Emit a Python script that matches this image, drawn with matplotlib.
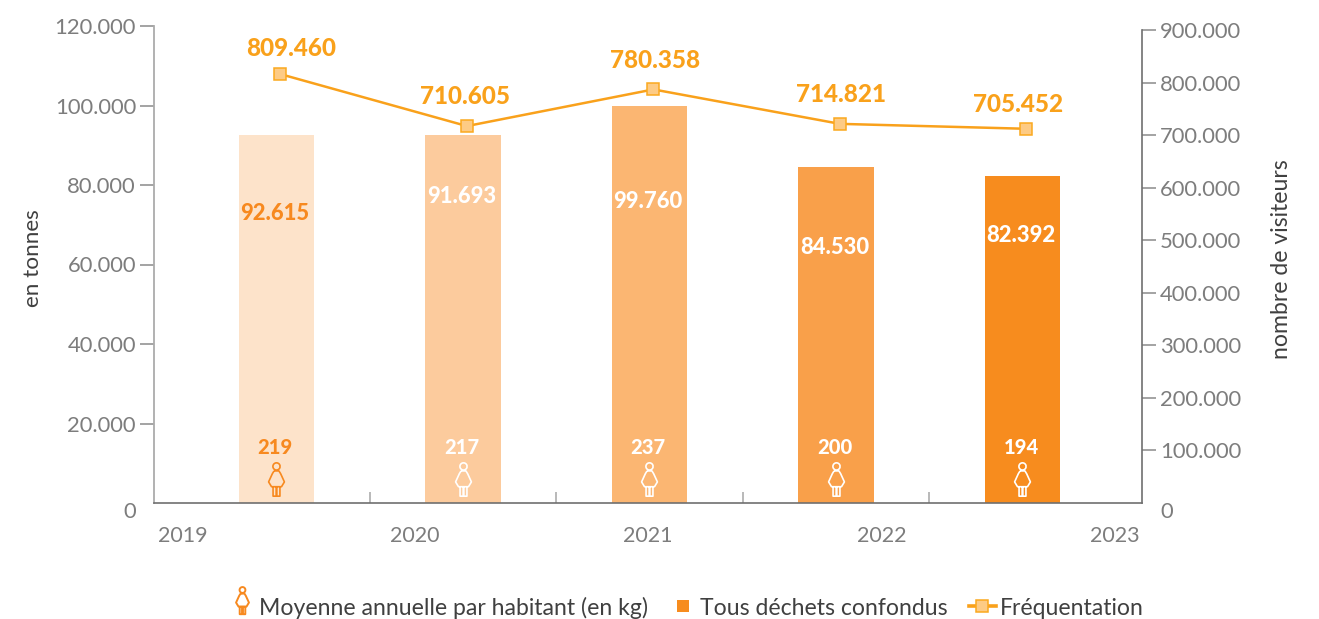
import numpy as np
import matplotlib
matplotlib.use("Agg")
import matplotlib.pyplot as plt
from matplotlib.path import Path
from matplotlib.lines import Line2D
from matplotlib.transforms import ScaledTranslation

years = ["2019", "2020", "2021", "2022", "2023"]
dechets = [92615, 91693, 99760, 84530, 82392]
bar_heights = [92615, 92615, 99760, 84530, 82300]  # as drawn in the picture
frequentation = [809460, 710605, 780358, 714821, 705452]
par_habitant = [219, 217, 237, 200, 194]
left_ticks = [0, 20000, 40000, 60000, 80000, 100000, 120000]
right_ticks = [0, 100000, 200000, 300000, 400000, 500000, 600000, 700000, 800000, 900000]
bar_colors = ["#FDE3CA", "#FCCB9D", "#FBB672", "#F9A04A", "#F78C1E"]
W, H = 1319, 619
GREY = "#7d7d7d"
DARK = "#404040"
ORANGE = "#F9A11B"
ICON = "#F7891F"
plt.rcParams["font.family"] = ["Lato", "DejaVu Sans"]


def fpt(x, y, s, **kw):
    return fig.text(x / W, 1 - y / H, s, ha="center", va="center", **kw)


def fmt(v):
    return f"{v:,}".replace(",", ".")


def person(dy=0.0):
    t = np.linspace(0, 2 * np.pi, 25)
    verts, codes = [], []

    def add(pts):
        verts.extend(pts)
        codes.extend([Path.MOVETO] + [Path.LINETO] * (len(pts) - 1))

    add(list(zip(0.21 * np.cos(t), 0.76 + 0.21 * np.sin(t))))
    add([(-0.14, 0.50), (0.14, 0.50), (0.24, 0.34), (0.46, -0.14), (0.29, -0.42),
         (-0.29, -0.42), (-0.46, -0.14), (-0.24, 0.34), (-0.14, 0.50)])
    add([(-0.20, -0.42), (-0.20, -0.97), (-0.02, -0.97), (-0.02, -0.42)])
    add([(0.02, -0.42), (0.02, -0.97), (0.20, -0.97), (0.20, -0.42)])
    v = np.array(verts)
    v[:, 1] += dy
    return Path(v, codes)


PERSON = person()
PERSON_LEG = person(0.42)

fig = plt.figure(figsize=(W / 100, H / 100), dpi=100)
ax = fig.add_axes([154 / W, 1 - 503 / H, (1142 - 154) / W, (503 - 26) / H])
x = np.arange(len(years))
ax.bar(x, bar_heights, width=75.5 / 186.5, color=bar_colors, zorder=2)
ax.set_xlim((154 - 276.4) / 186.5, (1142 - 276.4) / 186.5)
ax.set_ylim(0, 120000)
ax.set_yticks(left_ticks[1:])
ax.set_yticklabels([fmt(v) for v in left_ticks[1:]], fontsize=15.8, color=GREY)
ax.tick_params(axis="y", length=10, width=1.1, color="#8a8a8a", pad=3)
ax.set_xticks(x[:-1] + 0.5)
ax.set_xticklabels([])
ax.tick_params(axis="x", direction="in", length=8, width=1.1, color="#a5a5a5")
for s in ["top", "right"]:
    ax.spines[s].set_visible(False)
ax.spines["left"].set_color("#ababab")
ax.spines["left"].set_linewidth(1.3)
ax.spines["bottom"].set_color("#6f6f6f")
ax.spines["bottom"].set_linewidth(1.2)

ax2 = ax.twinx()
ax2.set_ylim(0, 907700)
ax2.set_yticks(right_ticks[1:])
ax2.set_yticklabels([fmt(v) for v in right_ticks[1:]], fontsize=15.8, color=GREY)
ax2.tick_params(axis="y", length=10, width=1.1, color="#8a8a8a", pad=3)
for s in ["top", "left", "bottom"]:
    ax2.spines[s].set_visible(False)
ax2.spines["right"].set_bounds(0, 900000)
ax2.spines["right"].set_color("#6f6f6f")
ax2.spines["right"].set_linewidth(1.2)

# The line sits a little up and right of the printed scale in the original
lift = ax2.transData + ScaledTranslation(4 / 100, 3.5 / 100, fig.dpi_scale_trans)
ax2.plot(x, frequentation, color=ORANGE, lw=1.8, marker="s", ms=8.5, mfc="#FDCB85",
         mec="#FBA91F", mew=1.1, transform=lift, zorder=5)

fpt(130, 512, "0", fontsize=15.8, color=GREY)
fpt(1167, 512, "0", fontsize=15.8, color=GREY)

for xp, yr in zip([183, 415, 648, 882, 1115], years):
    fpt(xp, 536, yr, fontsize=15.5, color=GREY)

fpt(33, 258, "en tonnes", rotation=90, fontsize=16.2, color=DARK)
fpt(1282, 259, "nombre de visiteurs", rotation=90, fontsize=16.6, color=DARK)

for xp, yp, v in zip([291, 465, 655, 841, 1018], [48, 97, 60, 94, 104], frequentation):
    fpt(xp, yp, fmt(v), fontsize=17.5, fontweight=900, color=ORANGE)

bar_lab_y = [213, 196, 202, 247, 235]
for i, (yp, v) in enumerate(zip(bar_lab_y, dechets)):
    col = ICON if i == 0 else "white"
    fpt(276 + i * 186.5 - 1, yp, fmt(v), fontsize=15.8, fontweight=900, color=col)
    fpt(276 + i * 186.5 - 1, 447, str(par_habitant[i]), fontsize=14.5, fontweight=900, color=col)

trans = ax.get_xaxis_transform()
for i in range(len(years)):
    col = ICON if i == 0 else "white"
    ax.plot([i], [(503 - 479) / 477], marker=PERSON, ms=24, mfc="none", mec=col, mew=1.2,
            transform=trans, zorder=4, clip_on=False)

handles = [
    Line2D([], [], ls="", marker=PERSON_LEG, ms=28, mfc="none", mec=ICON, mew=1.4),
    Line2D([], [], ls="", marker="s", ms=9, color="#F78C1E", mew=0),
    Line2D([], [], color=ORANGE, lw=2.6, marker="s", ms=9, mfc="#FDCB85", mec="#FBA91F", mew=1.1),
]
labels = ["Moyenne annuelle par habitant (en kg)", "Tous déchets confondus", "Fréquentation"]
fig.legend(handles, labels, ncol=3, frameon=False, fontsize=16.6, labelcolor=DARK,
           loc="center right", bbox_to_anchor=(1144 / W, 1 - 607.5 / H), handlelength=1.13,
           handleheight=0.8, handletextpad=0.2, columnspacing=0.93, borderpad=0, borderaxespad=0)
fig.savefig("out.png", dpi=100)
